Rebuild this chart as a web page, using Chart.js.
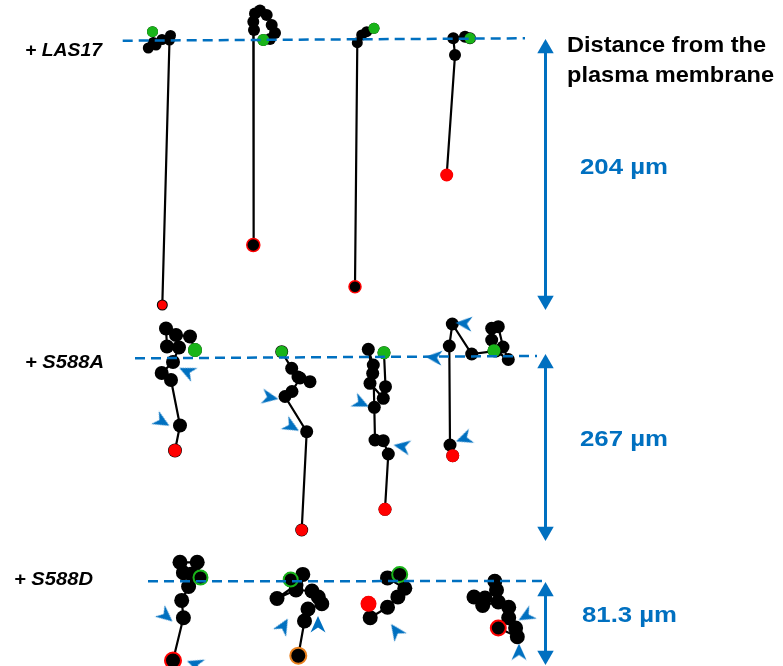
<!DOCTYPE html>
<html>
<head>
<meta charset="utf-8">
<script src="https://cdn.jsdelivr.net/npm/chart.js@4/dist/chart.umd.min.js"></script>
<style>
  html, body { margin: 0; padding: 0; background: #ffffff; }
  #wrap { width: 783px; height: 666px; }
</style>
</head>
<body>
<div id="wrap"><canvas id="c" width="783" height="666"></canvas></div>
<script>
// ---------- DATA (figure coordinates) ----------
// Track positions: [x, y], first = start, last = end
const las17Track1 = [[152.5,31.7],[153.3,42.5],[148.3,48],[156,45],[162,39.5],[170.5,35.5],[169.5,40],[162.3,305]];
const las17Track2 = [[263.3,40],[270,39],[275,33],[271.7,25],[266.7,15],[260,10.5],[255,13.5],[253.3,21.7],[254,30],[253.3,245]];
const las17Track3 = [[374,28.3],[366.7,31.7],[361.7,35],[357.3,42.7],[355,286.7]];
const las17Track4 = [[470,38.3],[465,36.7],[453.3,38.3],[455,55],[446.7,175]];

const s588aTrack1 = [[195,350],[190,336.5],[176,335],[166,328.5],[167,346.5],[179,347.5],[173,362],[161.7,373],[171,380],[180,425.5],[175,450.5]];
const s588aTrack2 = [[281.7,351.7],[291.7,368.3],[298,377],[310,381.7],[300,378],[292,391.5],[285,396.5],[306.7,431.7],[301.7,530]];
const s588aTrack3 = [[384,352.7],[385.5,386.7],[383.3,398.3],[370,383.3],[372.7,373.3],[368.3,349.3],[373.3,365],[374.3,407.3],[375,440],[383.3,440.7],[388.3,454],[385,509.3]];
const s588aTrack4 = [[494,350.7],[491.7,340],[491.7,328.3],[498.3,326.7],[503,347],[508.3,359.5],[496,351],[471.7,354],[452.3,324],[449.3,346],[450,445],[452.7,455.7]];

const s588dTrack1 = [[200.5,577.5],[197.2,562.3],[180,562.3],[183.4,572.7],[192,574],[188.6,586.5],[181.7,600.4],[183.4,617.7],[173,660.5]];
const s588dTrack2 = [[290.7,579.6],[302.8,574.4],[296,585],[277,598.5],[296,590],[312,591],[318.3,597],[321.8,603.8],[308,609],[304.5,621],[298.3,655.7]];
const s588dTrack3 = [[399.7,574.4],[387.5,577.9],[404.8,588.3],[397.9,596.9],[387.5,607.3],[370.2,617.7],[368.5,603.8]];
const s588dTrack4 = [[494.8,581.3],[496.5,590],[485,598],[474,597],[482.7,605.5],[498.3,602],[508.7,607.3],[508.7,617.7],[515.6,628],[517.3,636.7],[498.3,628]];

// Plasma membrane reference lines: [x, y] endpoints
const membraneLAS17 = [[122.7,40.7],[525,38.3]];
const membraneS588A = [[135,358.3],[537,356]];
const membraneS588D = [[148,581.3],[545,581]];

// Distance bars: x and [top, bottom]
const distanceX = 545.5;
const distanceLAS17 = [39, 310];
const distanceS588A = [354, 541];
const distanceS588D = [582, 665];
const distanceLabels = ["204 µm", "267 µm", "81.3 µm"];

// Pointer arrowheads: [x, y, direction in degrees]
const pointersS588A = [[187,371.5,205],[162,421.5,30],[270,397.5,10],[291.5,426.5,30],[361,403,25],[402,446.5,190],[464,323.5,185],[434,357.5,185],[464,438.5,160]];
const pointersS588D = [[166,616,40],[195,664,200],[283.5,626,300],[318,624.5,270],[396,631,235],[526,616,150],[519,652,270]];

const conditionLabels = ["+ LAS17", "+ S588A", "+ S588D"];
const axisTitle = ["Distance from the", "plasma membrane"];

// ---------- STYLES ----------
const BLUE = '#0070C0';
const GREEN = '#19B419';
const RED = '#FF0000';
const ORANGE = '#E8801E';
const BLACK = '#000000';

function pts(arr) { return arr.map(p => ({x: p[0], y: p[1]})); }

// dart-shaped pointer image
function makeDart() {
  const c = document.createElement('canvas');
  c.width = 17; c.height = 16;
  const g = c.getContext('2d');
  g.fillStyle = BLUE;
  g.beginPath();
  g.moveTo(17, 8);
  g.lineTo(0.5, 0.5);
  g.lineTo(5.5, 8);
  g.lineTo(0.5, 15.5);
  g.closePath();
  g.fill();
  return c;
}
const dart = makeDart();

const tracks = [
  {d: las17Track1, start: {bg: GREEN, bc: GREEN, r: 5.5, bw: 0}, end: {bg: RED, bc: RED, r: 4.5, bw: 0}, ptR: 5.5},
  {d: las17Track2, start: {bg: GREEN, bc: GREEN, r: 6, bw: 0}, end: {bg: BLACK, bc: RED, r: 6.5, bw: 1.5}, ptR: 6},
  {d: las17Track3, start: {bg: GREEN, bc: GREEN, r: 5.5, bw: 0}, end: {bg: BLACK, bc: RED, r: 6, bw: 1.5}, ptR: 5.5},
  {d: las17Track4, start: {bg: GREEN, bc: GREEN, r: 5.5, bw: 0}, end: {bg: RED, bc: RED, r: 6.5, bw: 0}, ptR: 6},
  {d: s588aTrack1, start: {bg: GREEN, bc: GREEN, r: 7, bw: 0}, end: {bg: RED, bc: RED, r: 6.5, bw: 0}, ptR: 7},
  {d: s588aTrack2, start: {bg: GREEN, bc: GREEN, r: 6, bw: 0}, end: {bg: RED, bc: RED, r: 6, bw: 0}, ptR: 6.5},
  {d: s588aTrack3, start: {bg: GREEN, bc: GREEN, r: 6.5, bw: 0}, end: {bg: RED, bc: RED, r: 6.5, bw: 0}, ptR: 6.5},
  {d: s588aTrack4, start: {bg: GREEN, bc: GREEN, r: 6.5, bw: 0}, end: {bg: RED, bc: RED, r: 6.5, bw: 0}, ptR: 6.5},
  {d: s588dTrack1, start: {bg: BLACK, bc: GREEN, r: 7, bw: 2}, end: {bg: BLACK, bc: RED, r: 8, bw: 2}, ptR: 7.5},
  {d: s588dTrack2, start: {bg: BLACK, bc: GREEN, r: 7, bw: 2}, end: {bg: BLACK, bc: ORANGE, r: 8, bw: 2}, ptR: 7.5},
  {d: s588dTrack3, start: {bg: BLACK, bc: GREEN, r: 7.5, bw: 2}, end: {bg: RED, bc: RED, r: 8, bw: 0}, ptR: 7.5},
  {d: s588dTrack4, start: {bg: BLACK, bc: BLACK, r: 7, bw: 0}, end: {bg: BLACK, bc: RED, r: 7.5, bw: 2}, ptR: 7.5}
];

const datasets = [];

// pointers (top-most)
[pointersS588A, pointersS588D].forEach(list => {
  datasets.push({
    type: 'scatter',
    data: list.map(p => ({x: p[0], y: p[1]})),
    pointStyle: dart,
    pointRotation: list.map(p => p[2]),
    pointRadius: 8,
    showLine: false,
    clip: false,
    order: 0
  });
});

// membrane dashed lines (drawn over the tracks)
[membraneLAS17, membraneS588A, membraneS588D].forEach(m => {
  datasets.push({
    type: 'scatter', data: pts(m), showLine: true, clip: false, order: 0.5,
    borderColor: BLUE, borderWidth: 2.5, borderDash: [10, 6], pointRadius: 0, tension: 0
  });
});

// start / end markers
tracks.forEach(t => {
  const s = t.d[0], e = t.d[t.d.length - 1];
  datasets.push({
    type: 'scatter', data: [{x: e[0], y: e[1]}], showLine: false, clip: false, order: 1,
    pointRadius: t.end.r, pointBackgroundColor: t.end.bg, pointBorderColor: t.end.bc, pointBorderWidth: t.end.bw
  });
  datasets.push({
    type: 'scatter', data: [{x: s[0], y: s[1]}], showLine: false, clip: false, order: 1,
    pointRadius: t.start.r, pointBackgroundColor: t.start.bg, pointBorderColor: t.start.bc, pointBorderWidth: t.start.bw
  });
});

// track lines
tracks.forEach(t => {
  datasets.push({
    type: 'scatter', data: pts(t.d), showLine: true, clip: false, order: 2,
    borderColor: BLACK, borderWidth: 2.2, tension: 0,
    pointRadius: t.ptR, pointBackgroundColor: BLACK, pointBorderWidth: 0
  });
});

// distance double arrows
[distanceLAS17, distanceS588A, distanceS588D].forEach(r => {
  datasets.push({
    type: 'scatter',
    data: [{x: distanceX, y: r[0] + 9.5}, {x: distanceX, y: r[1] - 9.5}],
    showLine: true, clip: false, order: 4,
    borderColor: BLUE, borderWidth: 3, tension: 0,
    pointStyle: 'triangle', pointRotation: [0, 180], pointRadius: 9.5,
    pointBackgroundColor: BLUE, pointBorderColor: BLUE, pointBorderWidth: 0
  });
});

function fitText(ctx, text, x, y, font, width, color) {
  ctx.save();
  ctx.font = font;
  ctx.fillStyle = color;
  ctx.textBaseline = 'middle';
  ctx.textAlign = 'left';
  const w = ctx.measureText(text).width;
  const sx = width ? width / w : 1;
  ctx.translate(x, y);
  ctx.scale(sx, 1);
  ctx.fillText(text, 0, 0);
  ctx.restore();
}

const textPlugin = {
  id: 'texts',
  afterDraw(chart) {
    const ctx = chart.ctx;
    const X = v => chart.scales.x.getPixelForValue(v);
    const Y = v => chart.scales.y.getPixelForValue(v);
    const lblFont = 'italic bold 18px "Liberation Sans", Arial, sans-serif';
    fitText(ctx, conditionLabels[0], X(25), Y(51), lblFont, 77, BLACK);
    fitText(ctx, conditionLabels[1], X(25), Y(363), lblFont, 79, BLACK);
    fitText(ctx, conditionLabels[2], X(14), Y(580), lblFont, 79, BLACK);

    const ttlFont = 'bold 22px "Liberation Sans", Arial, sans-serif';
    fitText(ctx, axisTitle[0], X(567), Y(45.5), ttlFont, 199, BLACK);
    fitText(ctx, axisTitle[1], X(567), Y(76), ttlFont, 207, BLACK);

    const dFont = 'bold 22px "Liberation Sans", Arial, sans-serif';
    fitText(ctx, distanceLabels[0], X(580), Y(167.5), dFont, 88, BLUE);
    fitText(ctx, distanceLabels[1], X(580), Y(440), dFont, 88, BLUE);
    fitText(ctx, distanceLabels[2], X(582), Y(615.5), dFont, 95, BLUE);
  }
};

new Chart(document.getElementById('c'), {
  type: 'scatter',
  data: { datasets },
  options: {
    responsive: false,
    animation: false,
    events: [],
    layout: { padding: 0, autoPadding: false },
    plugins: { legend: { display: false }, tooltip: { enabled: false } },
    scales: {
      x: { type: 'linear', min: 0, max: 783, display: false },
      y: { type: 'linear', min: 0, max: 666, reverse: true, display: false }
    }
  },
  plugins: [textPlugin]
});
</script>
</body>
</html>
